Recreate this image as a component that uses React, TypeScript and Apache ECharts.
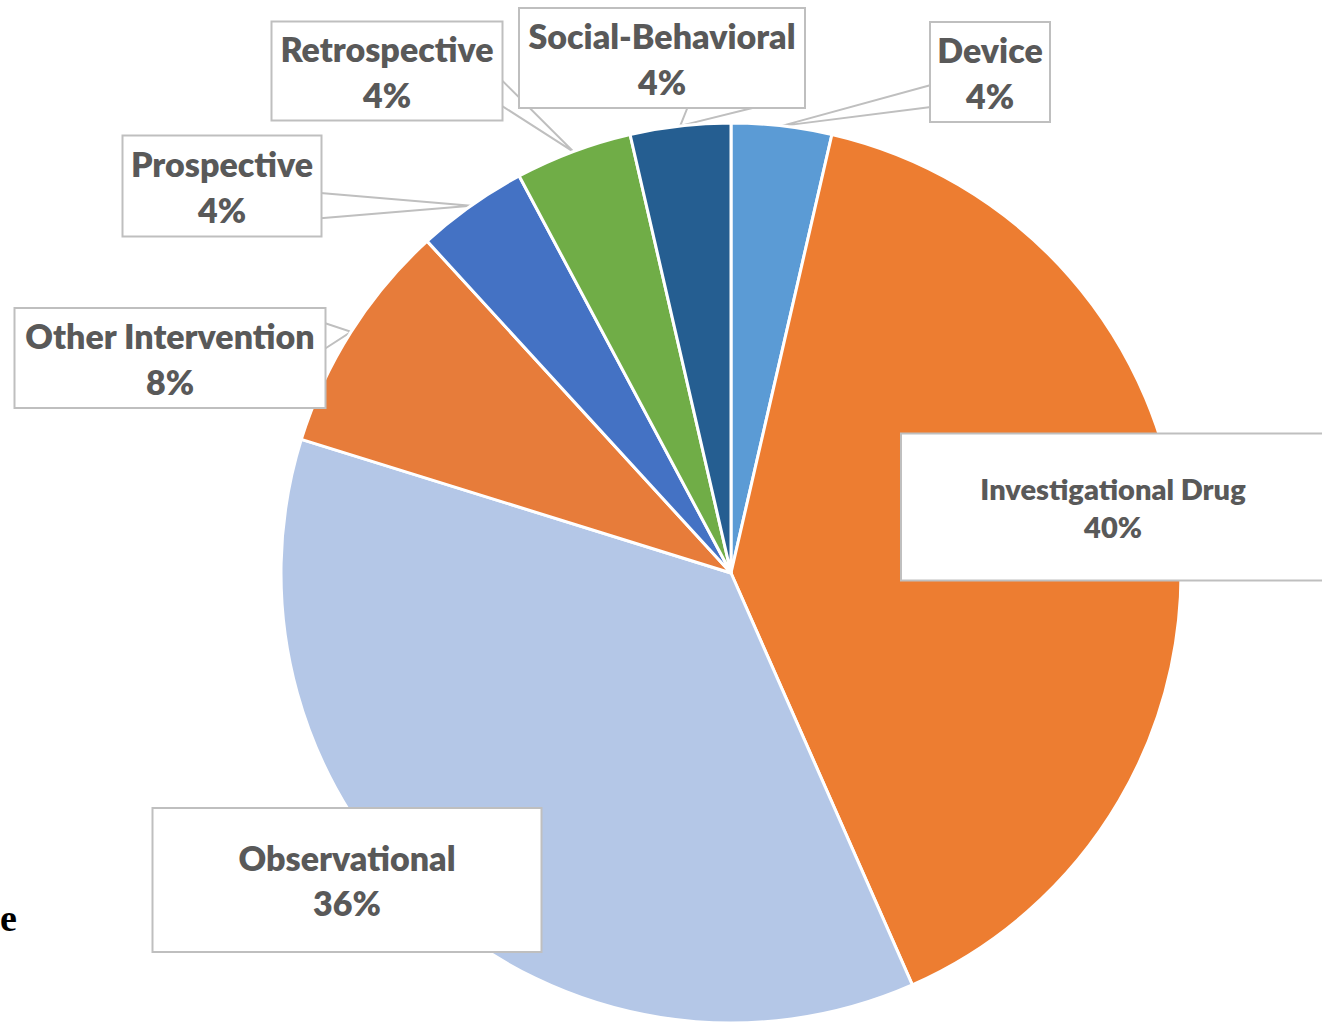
import React, { useEffect, useRef } from "react";
import * as echarts from "echarts";

const categories = [
  "Device",
  "Investigational Drug",
  "Observational",
  "Other Intervention",
  "Prospective",
  "Retrospective",
  "Social-Behavioral",
];
const shares = [3.6, 39.8, 36.4, 8.4, 4.0, 4.2, 3.6];
const colors = ["#5B9BD5", "#ED7D31", "#B4C7E7", "#E77C3A", "#4472C4", "#70AD47", "#255E91"];

// label callout boxes: centre, size, font, and where the callout wedge meets the box
const labelBoxes = [
  { cx: 990, cy: 72, w: 120, h: 100, fs: 34, lh: 46, wedge: { side: "left", a: 0.63, b: 0.85 } },
  { cx: 1113, cy: 507, w: 424, h: 147, fs: 29, lh: 38, wedge: null },
  { cx: 347, cy: 880, w: 389, h: 144, fs: 34, lh: 45, wedge: null },
  { cx: 170, cy: 358, w: 311, h: 100, fs: 34, lh: 46, wedge: { side: "right", a: 0.15, b: 0.41 } },
  { cx: 222, cy: 186, w: 199, h: 101, fs: 34, lh: 46, wedge: { side: "right", a: 0.57, b: 0.82 } },
  { cx: 387, cy: 71, w: 231, h: 99, fs: 34, lh: 46, wedge: { side: "right", a: 0.59, b: 0.85 } },
  { cx: 662, cy: 58, w: 286, h: 100, fs: 34, lh: 46, wedge: { side: "bottom", a: 0.59, b: 0.83 } },
];

const TEXT = "#595959";
const BORDER = "#BFBFBF";
const FONT = "Lato";

export default function App() {
  const ref = useRef<HTMLDivElement>(null);

  useEffect(() => {
    if (!ref.current) return;
    const chart = echarts.init(ref.current, null, { renderer: "svg" });

    const data = categories.map((name, i) => {
      const b = labelBoxes[i];
      const padV = (b.h - 2 * b.lh) / 2;
      return {
        name,
        value: shares[i],
        itemStyle: { color: colors[i] },
        label: {
          fontSize: b.fs,
          lineHeight: b.lh,
          width: b.w - 2,
          padding: [padV - 1, 0, padV - 1, 0],
        },
        labelLine: { show: !!b.wedge },
      };
    });

    chart.setOption({
      animation: false,
      backgroundColor: "#ffffff",
      graphic: [
        {
          type: "text",
          x: 0,
          y: 918,
          style: {
            text: "e",
            font: 'bold 38px "Liberation Serif"',
            fill: "#000",
            verticalAlign: "middle",
          },
        },
      ],
      series: [
        {
          type: "pie",
          center: [731, 573],
          radius: 450,
          startAngle: 90,
          clockwise: true,
          avoidLabelOverlap: false,
          itemStyle: { borderColor: "#ffffff", borderWidth: 3 },
          label: {
            show: true,
            position: "outside",
            formatter: (p: any) => `${p.name}\n${Math.round(p.percent)}%`,
            color: TEXT,
            fontFamily: FONT,
            fontWeight: 800,
            align: "center",
            backgroundColor: "#ffffff",
            borderColor: BORDER,
            borderWidth: 2,
          },
          labelLine: {
            show: true,
            lineStyle: { color: BORDER, width: 2 },
          },
          labelLayout: (params: any) => {
            const b = labelBoxes[params.dataIndex];
            const out: any = {
              x: b.cx,
              y: b.cy,
              align: "center",
              verticalAlign: "middle",
            };
            if (b.wedge && params.labelLinePoints) {
              const tip = params.labelLinePoints[0];
              const x0 = b.cx - b.w / 2;
              const y0 = b.cy - b.h / 2;
              const w = b.wedge;
              let p1: number[], p2: number[];
              if (w.side === "left") {
                p1 = [x0 + 1, y0 + w.a * b.h];
                p2 = [x0 + 1, y0 + w.b * b.h];
              } else if (w.side === "right") {
                p1 = [x0 + b.w - 1, y0 + w.a * b.h];
                p2 = [x0 + b.w - 1, y0 + w.b * b.h];
              } else {
                p1 = [x0 + w.a * b.w, y0 + b.h - 1];
                p2 = [x0 + w.b * b.w, y0 + b.h - 1];
              }
              out.labelLinePoints = [p1, tip, p2];
            }
            return out;
          },
          data,
        },
      ],
    });

    return () => chart.dispose();
  }, []);

  return (
    <div
      ref={ref}
      style={{ position: "fixed", left: 0, top: 0, width: 1322, height: 1022 }}
    />
  );
}
